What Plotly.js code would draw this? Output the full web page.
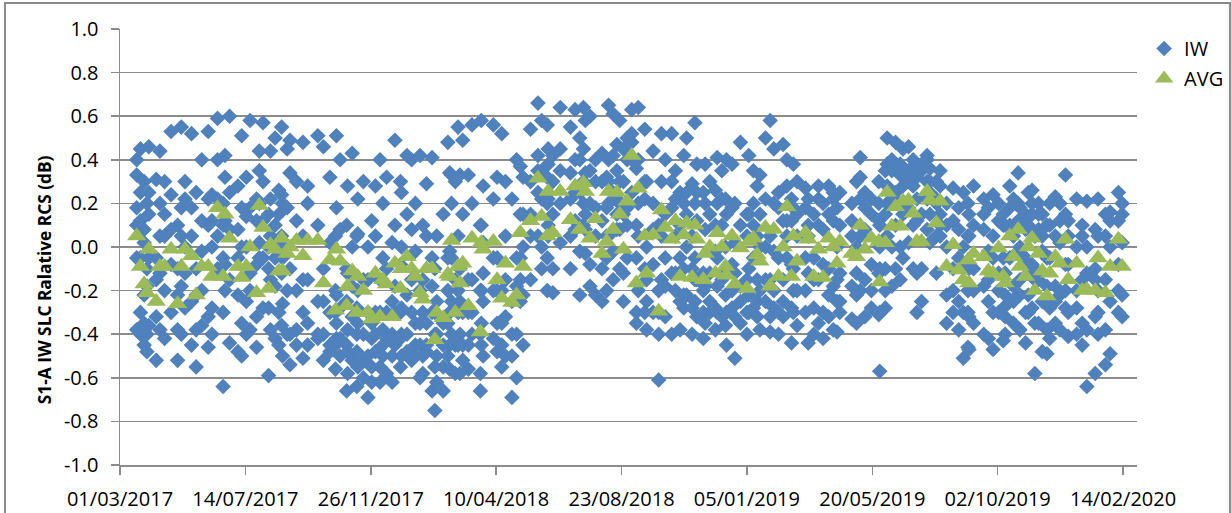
<!DOCTYPE html>
<html>
<head>
<meta charset="utf-8">
<script src="https://cdn.plot.ly/plotly-3.0.1.min.js"></script>
<style>html,body{margin:0;padding:0;background:#fff;}#chart{width:1231px;height:513px;}</style>
</head>
<body>
<div id="chart"></div>
<script>
// Acquisition dates as Excel serial numbers (01/03/2017 = 42795)
const acqDates = [
42813,42817,42821,42824,42826,42834,42838,42843,42850,42857,
42861,42865,42872,42877,42883,42890,42894,42900,42906,42908,
42913,42922,42926,42931,42935,42942,42945,42949,42955,42957,
42962,42966,42969,42970,42975,
42978,42985,42992,42997,43008,43014,43021,43027,43028,43032,
43039,43040,43045,43050,43051,43057,43062,43066,43070,43075,
43078,43082,43088,43091,43097,43098,43104,43109,43113,43118,
43121,43125,43131,43134,43136,43143,43148,43150,43152,43156,
43159,
43161,43164,43170,43174,43183,43184,43186,43197,43201,43206,
43210,43217,43222,43226,43229,
43237,43245,43249,43255,43256,43261,43269,43280,43285,43290,
43294,43296,43301,43307,43314,43319,43321,43326,43330,43333,
43337,43341,43346,
43351,43353,43360,43362,43369,43375,43378,43382,43389,43393,
43398,43402,43405,43411,43414,43416,43423,43425,43430,43436,
43438,43443,43447,43448,43454,43457,43463,43470,43472,43477,
43481,43484,43490,43495,43499,43504,43509,43513,43518,43520,
43524,
43533,43536,43542,43547,43552,43558,43563,43567,43570,43583,
43588,43592,43597,43604,43612,43613,43619,43621,43626,43630,
43635,43638,43644,43649,43653,43658,43664,43667,43674,43678,
43685,43692,43698,43703,43708,
43709,43714,43725,43730,43735,43741,43746,43748,43753,43757,
43762,43764,43770,43773,43777,43780,43784,43788,43793,43796,
43802,43807,43813,43816,43825,43831,43836,43845,43848,43856,
43861,43870,43874
];

// AVG series (dB)
const avgValues = [
0.05,-0.09,-0.17,-0.21,-0.01,-0.25,-0.09,-0.09,-0.01,-0.26,
-0.09,-0.01,-0.04,-0.22,-0.09,-0.09,-0.135,0.18,-0.135,0.15,
0.04,-0.09,-0.14,-0.09,0.0,-0.21,0.19,0.09,-0.19,0.01,
-0.01,-0.11,0.04,-0.11,-0.03,
0.0,0.03,-0.04,0.03,0.03,-0.165,-0.06,-0.29,-0.01,-0.065,
-0.27,-0.18,-0.11,-0.30,-0.135,-0.20,-0.30,-0.33,-0.12,-0.32,
-0.15,-0.17,-0.32,-0.075,-0.19,-0.10,-0.045,-0.10,-0.135,-0.21,
-0.24,-0.10,-0.10,-0.425,-0.30,-0.325,-0.125,-0.135,0.03,-0.30,
-0.09,
-0.165,-0.075,-0.27,0.04,-0.39,0.02,-0.01,0.025,-0.15,-0.235,
-0.075,-0.255,-0.22,0.065,-0.09,
0.12,0.315,0.14,0.05,0.255,0.065,0.255,0.125,0.28,0.08,
0.295,0.255,0.04,0.13,-0.03,0.025,0.255,0.08,0.25,0.15,
-0.01,0.21,0.42,
-0.165,0.27,0.05,-0.12,0.055,-0.295,0.17,0.09,0.035,0.12,
-0.135,0.055,0.11,-0.14,0.10,0.035,-0.15,-0.03,0.0,-0.12,
0.065,0.0,-0.09,-0.13,0.05,-0.17,-0.005,-0.19,0.025,0.04,
-0.035,-0.065,0.09,-0.18,0.08,-0.135,0.0,0.185,-0.135,0.05,
-0.065,
0.065,0.035,-0.135,-0.01,-0.14,0.04,0.0,-0.075,0.025,-0.03,
-0.045,0.10,-0.01,0.04,0.025,-0.16,0.02,0.25,0.095,0.185,
0.095,0.21,0.215,0.155,0.025,0.025,0.255,0.215,0.11,0.21,
-0.09,0.01,-0.105,-0.15,-0.06,
-0.165,-0.03,-0.045,-0.11,-0.12,-0.005,-0.135,-0.165,0.05,-0.045,
0.08,-0.09,-0.135,0.0,0.04,-0.20,-0.03,-0.11,-0.225,-0.12,
-0.045,-0.075,0.035,-0.15,-0.075,-0.20,-0.195,-0.20,-0.05,-0.21,
-0.09,0.035,-0.09
];

// IW individual values (dB), one list per acquisition date
const iwValues = [
[0.40,0.33,0.18,-0.05,-0.38],[0.45,0.25,0.12,-0.30,-0.40],[0.30,0.08,-0.22,-0.35,-0.45],[0.20,-0.10,-0.40,-0.48],[0.46,0.15,-0.05,-0.36],
[0.31,-0.15,-0.32,-0.52],[0.44,0.20,-0.12,-0.38],[0.30,0.05,-0.20,-0.42],[0.53,0.24,-0.08,-0.30],[0.10,-0.22,-0.38,-0.52],
[0.55,0.18,-0.18,-0.40],[0.30,0.22,-0.12,-0.28],[0.52,0.05,-0.25,-0.45],[0.25,-0.10,-0.38,-0.55],[0.40,0.12,-0.20,-0.36],
[0.53,0.10,-0.32,-0.46],[0.24,0.00,-0.28,-0.40],[0.59,0.40,0.22,-0.10],[0.20,-0.05,-0.30,-0.64],[0.42,0.32,0.12,-0.20],
[0.60,0.25,-0.15,-0.44],[0.28,0.08,-0.22,-0.48],[0.51,0.00,-0.35,-0.50],[0.32,0.14,-0.25,-0.40],[0.58,0.18,-0.12,-0.38],
[0.22,-0.08,-0.32,-0.46],[0.44,0.35,0.20,-0.05],[0.57,0.30,-0.05,-0.28],[0.15,-0.10,-0.28,-0.59],[0.44,0.22,-0.15,-0.38],
[0.50,0.10,-0.18,-0.42],[0.26,0.02,-0.30,-0.45],[0.55,0.24,-0.12,-0.36],[0.20,-0.05,-0.26,-0.50],[0.45,0.18,-0.20,-0.40],
[0.49,0.34,-0.10,-0.54],[0.30,0.12,-0.20,-0.38],[0.48,0.05,-0.30,-0.51],[0.28,0.20,-0.15,-0.45],[0.51,0.10,-0.25,-0.42],
[0.46,-0.10,-0.40,-0.52],[0.32,0.02,-0.30,-0.48],[0.05,-0.30,-0.45,-0.56],[0.51,0.18,-0.22,-0.42],[0.40,0.08,-0.28,-0.50],
[0.10,-0.25,-0.45,-0.66],[0.28,-0.12,-0.38,-0.58],[0.43,0.00,-0.32,-0.52],[0.05,-0.28,-0.48,-0.64],[0.22,0.06,-0.35,-0.55],
[0.30,-0.15,-0.40,-0.60],[0.00,-0.30,-0.50,-0.69],[0.12,-0.35,-0.55,-0.62],[0.28,0.05,-0.30,-0.48],[0.40,-0.30,-0.55,-0.62],
[0.20,-0.05,-0.38,-0.50],[0.32,-0.10,-0.42,-0.58],[0.02,-0.25,-0.50,-0.62],[0.49,0.10,-0.30,-0.45],[0.30,-0.08,-0.42,-0.55],
[0.25,0.00,-0.28,-0.40],[0.42,0.15,-0.22,-0.48],[0.40,0.08,-0.30,-0.52],[0.20,-0.02,-0.35,-0.45],[0.42,-0.20,-0.45,-0.60],
[0.10,-0.15,-0.50,-0.58],[0.29,0.05,-0.35,-0.48],[0.41,-0.05,-0.30,-0.66],[-0.10,-0.40,-0.55,-0.75],[0.05,-0.25,-0.50,-0.62],
[0.15,-0.35,-0.55,-0.66],[0.48,-0.05,-0.35,-0.50],[0.34,-0.02,-0.30,-0.56],[0.33,0.20,-0.05,-0.40],[0.30,-0.28,-0.45,-0.58],
[0.55,0.05,-0.30,-0.45],
[0.33,-0.10,-0.40,-0.58],[0.49,0.15,-0.30,-0.52],[0.33,-0.30,-0.45,-0.56],[0.56,0.20,-0.15,-0.40],[0.10,-0.40,-0.58,-0.66],
[0.58,0.10,-0.20,-0.45],[0.28,0.02,-0.25,-0.50],[0.56,0.22,-0.20,-0.42],[0.32,-0.05,-0.35,-0.48],[0.52,-0.20,-0.45,-0.55],
[0.30,0.05,-0.32,-0.50],[0.22,-0.25,-0.50,-0.69],[0.40,-0.18,-0.40,-0.60],[0.37,0.15,-0.05,-0.25],[0.32,0.00,-0.22,-0.45],
[0.54,0.30,0.05,-0.15],[0.66,0.42,0.25,0.05],[0.58,0.35,0.00,-0.10],[0.56,0.20,-0.05,-0.20],[0.45,0.38,0.22,0.10],
[0.42,0.15,-0.10,-0.21],[0.64,0.35,0.20,0.02],[0.55,0.34,0.05,-0.10],[0.63,0.40,0.25,0.08],[0.50,0.25,-0.02,-0.22],
[0.64,0.45,0.30,0.10],[0.58,0.34,0.15,-0.03],[0.60,0.20,-0.08,-0.18],[0.40,0.30,0.05,-0.22],[0.43,0.12,-0.10,-0.25],
[0.32,0.18,-0.05,-0.20],[0.65,0.40,0.20,0.05],[0.61,0.25,-0.02,-0.15],[0.47,0.35,0.22,0.08],[0.58,0.30,0.08,-0.10],
[0.45,0.15,-0.12,-0.25],[0.50,0.40,0.18,-0.05],[0.63,0.52,0.40,0.25],
[0.36,-0.05,-0.30,-0.35],[0.64,0.40,0.20,0.05],[0.54,0.22,-0.10,-0.30],[0.30,0.00,-0.25,-0.38],[0.44,0.20,-0.08,-0.30],
[0.10,-0.30,-0.40,-0.61],[0.52,0.30,0.10,-0.15],[0.40,0.15,-0.05,-0.32],[0.52,0.18,-0.12,-0.40],[0.35,0.22,0.05,-0.20],
[0.25,-0.05,-0.25,-0.38],[0.42,0.20,-0.10,-0.28],[0.50,0.25,0.00,-0.22],[0.29,-0.10,-0.28,-0.40],[0.57,0.20,-0.05,-0.25],
[0.38,0.12,-0.15,-0.32],[0.25,-0.12,-0.30,-0.42],[0.38,0.08,-0.18,-0.35],[0.30,0.15,-0.12,-0.30],[0.26,-0.02,-0.28,-0.38],
[0.41,0.20,-0.05,-0.30],[0.35,0.10,-0.15,-0.32],[0.22,0.00,-0.22,-0.36],[0.40,-0.10,-0.30,-0.45],[0.38,0.18,-0.08,-0.28],
[0.20,-0.12,-0.32,-0.51],[0.48,0.10,-0.18,-0.35],[0.15,-0.15,-0.30,-0.40],[0.42,0.15,-0.10,-0.30],[0.35,0.20,-0.05,-0.28],
[0.28,0.05,-0.15,-0.32],[0.33,0.00,-0.20,-0.38],[0.50,0.22,0.00,-0.25],[0.58,-0.15,-0.32,-0.39],[0.45,0.20,-0.02,-0.28],
[0.25,-0.05,-0.30,-0.40],[0.47,0.12,-0.15,-0.32],[0.40,0.28,0.12,-0.05],[0.22,-0.08,-0.28,-0.44],[0.38,0.18,-0.10,-0.30],
[0.30,0.05,-0.20,-0.36],
[0.27,0.18,-0.05,-0.30],[0.22,0.10,-0.12,-0.44],[0.15,-0.05,-0.28,-0.40],[0.28,0.10,-0.15,-0.35],[0.20,-0.08,-0.30,-0.42],
[0.28,0.15,-0.10,-0.32],[0.22,0.12,-0.18,-0.38],[0.18,0.00,-0.25,-0.39],[0.25,0.10,-0.12,-0.30],[0.20,0.05,-0.18,-0.33],
[0.30,0.00,-0.22,-0.35],[0.41,0.32,0.05,-0.20],[0.25,0.08,-0.15,-0.32],[0.22,0.15,-0.08,-0.28],[0.30,0.12,-0.12,-0.31],
[0.10,-0.10,-0.30,-0.57],[0.35,0.15,-0.10,-0.28],[0.50,0.38,0.20,0.05],[0.40,0.22,0.00,-0.18],[0.48,0.38,0.10,-0.10],
[0.33,0.20,0.00,-0.15],[0.45,0.34,0.15,-0.05],[0.46,0.30,0.18,0.02],[0.37,0.28,0.10,-0.10],[0.32,0.12,-0.12,-0.30],
[0.38,0.15,-0.10,-0.25],[0.42,0.40,0.22,0.08],[0.36,0.30,0.15,0.02],[0.30,0.22,0.05,-0.12],[0.35,0.28,0.15,0.05],
[0.20,0.00,-0.22,-0.35],[0.27,0.12,-0.10,-0.30],[0.18,-0.05,-0.25,-0.38],[0.25,-0.10,-0.30,-0.51],[0.20,0.05,-0.20,-0.46],
[0.15,-0.10,-0.32,-0.47],[0.28,0.10,-0.20,-0.35],[0.22,0.08,-0.18,-0.40],[0.18,-0.02,-0.25,-0.42],[0.24,-0.05,-0.30,-0.47],
[0.20,0.12,-0.12,-0.30],[0.15,-0.05,-0.28,-0.43],[0.10,-0.12,-0.32,-0.40],[0.28,0.18,-0.05,-0.25],[0.22,0.05,-0.18,-0.35],
[0.34,0.20,-0.02,-0.22],[0.18,0.00,-0.22,-0.38],[0.15,-0.05,-0.30,-0.44],[0.25,0.10,-0.12,-0.30],[0.26,0.15,-0.08,-0.28],
[0.05,-0.15,-0.35,-0.58],[0.20,0.08,-0.15,-0.35],[0.15,-0.02,-0.25,-0.48],[0.10,-0.18,-0.38,-0.49],[0.20,-0.05,-0.28,-0.42],
[0.23,0.05,-0.18,-0.35],[0.20,0.02,-0.22,-0.38],[0.33,0.15,-0.08,-0.28],[0.12,-0.08,-0.30,-0.41],[0.22,0.00,-0.20,-0.40],
[0.10,-0.15,-0.35,-0.45],[0.21,-0.12,-0.38,-0.64],[0.08,-0.15,-0.32,-0.58],[0.22,0.05,-0.20,-0.40],[0.15,-0.15,-0.38,-0.54],
[0.16,0.00,-0.25,-0.49],[0.25,0.12,-0.08,-0.30],[0.20,0.02,-0.22,-0.32]
];

// One further IW value per acquisition date (dense core of the cloud)
const iwExtra = [
0.10,-0.05,0.02,-0.18,0.25,-0.05,0.05,0.15,0.08,-0.10,
0.05,0.00,0.18,-0.22,-0.02,0.22,0.12,0.05,0.10,-0.08,
0.08,-0.05,0.18,0.00,-0.20,0.12,0.02,0.12,0.00,0.05,
-0.05,0.15,0.05,0.20,0.00,
-0.40,-0.45,-0.15,-0.35,-0.40,-0.25,-0.45,-0.20,-0.35,-0.42,
-0.10,-0.48,-0.18,-0.40,-0.20,-0.52,-0.15,-0.42,-0.40,-0.15,
-0.45,-0.30,-0.40,-0.18,-0.30,-0.50,-0.40,-0.15,-0.50,-0.35,
-0.30,-0.45,-0.18,-0.30,-0.40,-0.45,-0.20,-0.45,-0.25,-0.15,
-0.20,
-0.25,-0.45,-0.15,-0.30,-0.20,-0.35,-0.12,-0.05,-0.20,-0.35,
-0.15,-0.40,-0.05,-0.15,0.15,
0.15,0.35,0.22,0.32,0.05,0.30,0.45,0.22,0.12,0.40,
0.20,0.08,0.35,0.18,0.30,0.05,0.30,0.42,0.15,0.20,
0.30,0.10,0.48,
0.10,-0.20,0.30,-0.15,0.08,-0.20,0.05,-0.18,0.30,-0.12,
0.10,-0.22,0.15,0.05,-0.15,0.25,-0.20,0.20,-0.25,0.10,
-0.18,0.22,-0.10,0.15,-0.20,0.02,-0.25,0.05,-0.22,0.10,
-0.25,0.15,-0.15,0.05,-0.20,0.18,-0.25,0.05,0.12,-0.20,
0.15,
-0.20,0.05,-0.15,0.22,0.08,-0.22,0.25,-0.15,-0.25,0.12,
-0.12,0.22,0.18,-0.20,0.20,0.00,-0.20,0.28,0.35,0.25,
0.38,0.28,0.35,0.40,0.22,0.35,0.30,0.25,0.20,0.10,
0.10,-0.20,0.08,0.00,-0.30,
0.05,-0.10,0.15,-0.15,0.05,-0.20,0.10,-0.22,0.10,-0.25,
0.12,-0.15,0.08,-0.22,0.20,-0.10,0.15,0.05,-0.05,0.10,
-0.25,0.12,-0.20,0.05,-0.28,0.05,0.00,-0.10,-0.30,0.05,
0.12,-0.20,0.15
];

const yTickVals = [-1.0,-0.8,-0.6,-0.4,-0.2,0.0,0.2,0.4,0.6,0.8,1.0];
const yTickText = ['-1.0','-0.8','-0.6','-0.4','-0.2','0.0','0.2','0.4','0.6','0.8','1.0'];
const seriesNames = ['IW','AVG'];
const yTitle = 'S1-A IW SLC Ralative RCS (dB)';
const xStart = 42795; // 01/03/2017
const xEnd = 43890;   // 29/02/2020
const tickStepDays = 135;

function serialToDate(s){
  const d = new Date(Date.UTC(1899,11,30) + s*86400000);
  return d.toISOString().slice(0,10);
}

const iwX = [], iwY = [];
acqDates.forEach((d,i)=>{
  const ds = serialToDate(d);
  iwValues[i].forEach(v=>{ iwX.push(ds); iwY.push(v); });
  iwX.push(ds); iwY.push(iwExtra[i]);
});
const avgX = acqDates.map(serialToDate);

const FONT = 'Open Sans, Liberation Sans, sans-serif';
const GRID = '#8c8c8c';

const traces = [
  {type:'scatter', mode:'markers', name:seriesNames[0], x:iwX, y:iwY, legendgroup:'a',
   marker:{symbol:'diamond', size:12, color:'#4F81BD'}, cliponaxis:false},
  {type:'scatter', mode:'markers', name:seriesNames[1], x:avgX, y:avgValues, legendgroup:'b',
   marker:{symbol:'triangle-up', size:17, color:'#9BBB59'}, cliponaxis:false}
];

const layout = {
  width:1231, height:513,
  margin:{l:120, r:94, t:29, b:48, autoexpand:false},
  paper_bgcolor:'#fff', plot_bgcolor:'#fff',
  font:{family:FONT, size:20, color:'#000'},
  showlegend:true,
  legend:{x:1.007, y:1.0, xanchor:'left', yanchor:'top', bgcolor:'rgba(0,0,0,0)',
          font:{family:FONT, size:20, color:'#000'}, tracegroupgap:1, traceorder:'grouped'},
  xaxis:{type:'date', range:[serialToDate(xStart), serialToDate(xEnd)],
         tick0:serialToDate(xStart), dtick:tickStepDays*86400000, tickformat:'%d/%m/%Y',
         showgrid:false, zeroline:false, showline:true, linecolor:GRID, linewidth:1.5,
         ticks:'outside', ticklen:8, tickcolor:GRID, tickwidth:1.5, ticklabelstandoff:7,
         tickfont:{family:FONT, size:20, color:'#000'}},
  yaxis:{range:[-1,1], tickmode:'array', tickvals:yTickVals, ticktext:yTickText,
         showgrid:true, gridcolor:GRID, gridwidth:1.5, zeroline:false,
         showline:true, linecolor:GRID, linewidth:1.5,
         ticks:'outside', ticklen:8, tickcolor:GRID, tickwidth:1.5, ticklabelstandoff:8,
         tickfont:{family:FONT, size:20, color:'#000'}},
  annotations:[{xref:'paper', yref:'paper', x:-0.0747, y:0.424, text:'<b>'+yTitle+'</b>',
                textangle:-90, showarrow:false, xanchor:'center', yanchor:'middle',
                font:{family:FONT, size:17.3, color:'#000'}}],
  shapes:[{type:'rect', xref:'paper', yref:'paper', x0:-0.1131, x1:1.0914, y0:-0.115, y1:1.0596,
           line:{color:'#8a8a8a', width:2}, fillcolor:'rgba(0,0,0,0)', layer:'below'}]
};

Plotly.newPlot('chart', traces, layout, {displayModeBar:false, staticPlot:true});
</script>
</body>
</html>
